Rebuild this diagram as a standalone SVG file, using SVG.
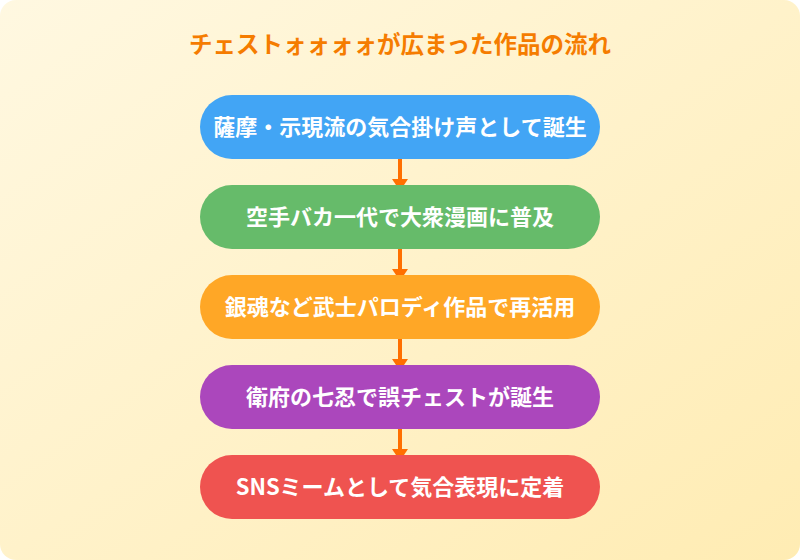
<svg xmlns="http://www.w3.org/2000/svg" width="800" height="560" viewBox="0 0 800 560">
  <defs>
    <linearGradient id="bg" x1="0" y1="0" x2="1" y2="1">
      <stop offset="0" stop-color="#FFF8E1"/>
      <stop offset="1" stop-color="#FFECB3"/>
    </linearGradient>
    <style>
      .title { font-family: "Noto Sans CJK JP", "Noto Sans", sans-serif; font-size: 23.5px; font-weight: bold; fill: #F57C00; }
      .label { font-family: "Noto Sans CJK JP", "Noto Sans", sans-serif; font-size: 22px; font-weight: bold; fill: #FFFFFF; }
      .conn line { stroke: #FF6F00; stroke-width: 4; }
      .conn polygon { fill: #FF6F00; }
    </style>
  </defs>
  <rect x="0" y="0" width="800" height="560" rx="16" ry="16" fill="url(#bg)"/>
  <text class="title" x="400" y="53" text-anchor="middle">チェストォォォォが広まった作品の流れ</text>
  <g id="connectors" class="conn">
    <line x1="400" y1="159" x2="400" y2="180"/>
    <polygon points="392,179 408,179 400,191"/>
    <line x1="400" y1="249" x2="400" y2="270"/>
    <polygon points="392,269 408,269 400,281"/>
    <line x1="400" y1="339" x2="400" y2="360"/>
    <polygon points="392,359 408,359 400,371"/>
    <line x1="400" y1="429" x2="400" y2="450"/>
    <polygon points="392,449 408,449 400,461"/>
  </g>
  <g id="node1">
    <rect x="200" y="95" width="400" height="64" rx="32" ry="32" fill="#42A5F5"/>
    <text class="label" x="400" y="135" text-anchor="middle">薩摩・示現流の気合掛け声として誕生</text>
  </g>
  <g id="node2">
    <rect x="200" y="185" width="400" height="64" rx="32" ry="32" fill="#66BB6A"/>
    <text class="label" x="400" y="225" text-anchor="middle">空手バカ一代で大衆漫画に普及</text>
  </g>
  <g id="node3">
    <rect x="200" y="275" width="400" height="64" rx="32" ry="32" fill="#FFA726"/>
    <text class="label" x="400" y="315" text-anchor="middle">銀魂など武士パロディ作品で再活用</text>
  </g>
  <g id="node4">
    <rect x="200" y="365" width="400" height="64" rx="32" ry="32" fill="#AB47BC"/>
    <text class="label" x="400" y="405" text-anchor="middle">衛府の七忍で誤チェストが誕生</text>
  </g>
  <g id="node5">
    <rect x="200" y="455" width="400" height="64" rx="32" ry="32" fill="#EF5350"/>
    <text class="label" x="400" y="495" text-anchor="middle">SNSミームとして気合表現に定着</text>
  </g>
</svg>
